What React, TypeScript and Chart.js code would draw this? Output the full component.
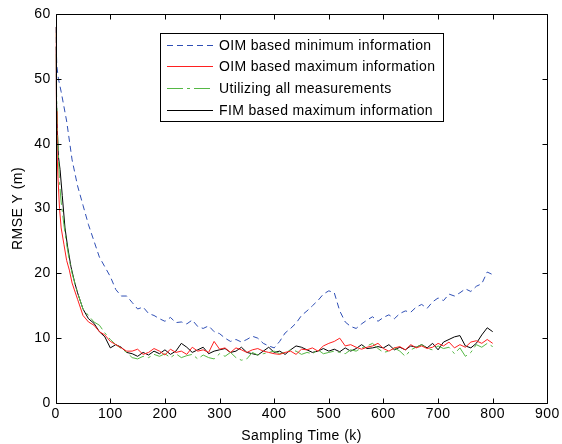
import React, { useEffect, useRef } from "react";
import { Chart, registerables } from "chart.js";
Chart.register(...registerables);

const xBlue = [0, 2, 5, 10, 20, 30, 40, 50, 60, 70, 80, 90, 100, 110, 120, 130, 140, 150, 160, 170, 180, 190, 200, 210, 220, 230, 240, 250, 260, 270, 280, 290, 300, 310, 320, 330, 340, 350, 360, 370, 380, 390, 400, 410, 420, 430, 440, 450, 460, 470, 480, 490, 500, 510, 520, 530, 540, 550, 560, 570, 580, 590, 600, 610, 620, 630, 640, 650, 660, 670, 680, 690, 700, 710, 720, 730, 740, 750, 760, 770, 780, 790, 800];
const yBlue = [58, 52, 50, 48, 43.5, 37.5, 33.5, 30.5, 27.5, 25, 22.5, 21, 19.5, 17.5, 16.5, 16.5, 15.5, 14.5, 14.8, 13.8, 13.5, 13, 12.6, 13.2, 12.4, 12.5, 12.2, 12.8, 11.8, 11.5, 11.9, 11, 10.7, 10, 9.5, 9.8, 9.4, 9.8, 10.3, 10, 9.2, 8.8, 8.5, 9.5, 10.8, 11.5, 12.3, 13.5, 14.2, 15, 15.8, 16.8, 17.3, 17, 14.2, 12.5, 11.8, 11.5, 12.2, 12.8, 13.3, 12.6, 13.2, 13.6, 13, 13.8, 14.2, 14, 14.8, 15.2, 14.6, 15.6, 16.2, 15.8, 16.8, 16.5, 17, 17.6, 17.2, 18, 18.4, 20.2, 19.8];

const xRed = [0, 1, 2, 4, 7, 10, 15, 20, 25, 30, 40, 50, 60, 70, 80, 90, 100, 110, 120, 130, 140, 150, 160, 170, 180, 190, 200, 210, 220, 230, 240, 250, 260, 270, 280, 290, 300, 310, 320, 330, 340, 350, 360, 370, 380, 390, 400, 410, 420, 430, 440, 450, 460, 470, 480, 490, 500, 510, 520, 530, 540, 550, 560, 570, 580, 590, 600, 610, 620, 630, 640, 650, 660, 670, 680, 690, 700, 710, 720, 730, 740, 750, 760, 770, 780, 790, 800];
const yRed = [58, 45, 40, 35, 30, 27, 24.5, 22, 20.5, 18.5, 16, 13.5, 12.5, 12, 11, 10.5, 9.5, 9, 8.5, 8, 8, 8.3, 7.5, 7.8, 8.4, 8, 7.4, 8.3, 7.8, 8, 7.5, 8.6, 8, 8.2, 7.8, 9.5, 8.3, 8.5, 7.8, 8.5, 8.2, 7.8, 8.2, 8.4, 8, 7.8, 7.6, 7.5, 7.8, 8, 7.5, 8.3, 8.2, 8.5, 8, 8.8, 9.2, 9.5, 10, 8.8, 9, 8.6, 8.3, 8.6, 8.8, 9.2, 8.4, 8, 8.5, 8.7, 8.2, 9, 8.5, 8.8, 8.4, 8.6, 9.2, 8.8, 9.4, 8.5, 9, 8.6, 9.4, 9.6, 9.2, 9.8, 9.2];

const xGreen = [0, 1, 2, 4, 7, 10, 15, 20, 25, 30, 40, 50, 60, 70, 80, 90, 100, 110, 120, 130, 140, 150, 160, 170, 180, 190, 200, 210, 220, 230, 240, 250, 260, 270, 280, 290, 300, 310, 320, 330, 340, 350, 360, 370, 380, 390, 400, 410, 420, 430, 440, 450, 460, 470, 480, 490, 500, 510, 520, 530, 540, 550, 560, 570, 580, 590, 600, 610, 620, 630, 640, 650, 660, 670, 680, 690, 700, 710, 720, 730, 740, 750, 760, 770, 780, 790, 800];
const yGreen = [58, 50, 46, 40, 34, 31, 27.5, 24.5, 22, 20, 17, 14.5, 13.5, 12.5, 12, 10.8, 9.8, 9, 8.4, 7.8, 7, 6.8, 7.2, 7, 7.5, 7.2, 7.6, 7, 7.6, 7, 7.3, 7.5, 6.8, 7.4, 7, 6.8, 7.6, 7.2, 7.8, 7, 6.6, 6.8, 7.8, 7.4, 7.6, 7.8, 8, 7.6, 7.8, 8.2, 8, 7.5, 7.8, 7.6, 8.2, 7.6, 7.8, 8, 7.8, 7.6, 8.2, 8, 8.5, 8.8, 9.2, 8.4, 7.8, 8, 8.5, 8, 7.2, 8.2, 8.6, 9, 8.4, 8.2, 8.8, 8.4, 8.6, 7.6, 8.5, 7.2, 7.8, 9, 8.6, 9.2, 8.7];

const xBlack = [0, 1, 3, 5, 8, 12, 17, 22, 28, 35, 40, 50, 60, 70, 80, 90, 100, 110, 120, 130, 140, 150, 160, 170, 180, 190, 200, 210, 220, 230, 240, 250, 260, 270, 280, 290, 300, 310, 320, 330, 340, 350, 360, 370, 380, 390, 400, 410, 420, 430, 440, 450, 460, 470, 480, 490, 500, 510, 520, 530, 540, 550, 560, 570, 580, 590, 600, 610, 620, 630, 640, 650, 660, 670, 680, 690, 700, 710, 720, 730, 740, 750, 760, 770, 780, 790, 800];
const yBlack = [55, 48, 42, 38, 36, 32, 27, 24, 21, 18.5, 17, 14.5, 13, 12.3, 11, 10.2, 8.5, 9, 8.6, 7.8, 7.6, 7.2, 7.8, 7.4, 8, 7.6, 8.2, 7.5, 8, 9.2, 8.6, 7.8, 8.2, 8.6, 7.6, 8, 8.2, 8.4, 7.8, 8, 8.6, 7.8, 7.6, 7.4, 8, 8.6, 7.8, 8, 7.5, 8.2, 8.8, 8.6, 8.2, 7.8, 8, 8.4, 8, 8.3, 7.9, 8.5, 8, 8.4, 9, 8.4, 8.5, 8.7, 8.5, 9, 8.2, 8.6, 8.2, 8.8, 8.6, 9, 8.5, 9.2, 8.2, 9.4, 9.8, 10.2, 10.4, 8.8, 8.5, 9.2, 10.5, 11.6, 11];

const seriesLabels = [
  "OIM based minimum information",
  "OIM based maximum information",
  "Utilizing all measurements",
  "FIM based maximum information",
];
const seriesColors = ["#2f4fb5", "#ff2020", "#55b845", "#000000"];
const xTicks = [0, 100, 200, 300, 400, 500, 600, 700, 800, 900];
const yTicks = [0, 10, 20, 30, 40, 50, 60];

const pts = (xs: number[], ys: number[]) => xs.map((x, i) => ({ x, y: ys[i] }));

const FONT = "'Liberation Sans', Arial, sans-serif";

const boxPlugin = {
  id: "matlabBox",
  beforeDraw(chart: any) {
    chart.ctx.letterSpacing = "0.45px";
  },
  afterDatasetsDraw(chart: any) {
    const { ctx, chartArea: a, scales } = chart;
    ctx.save();
    ctx.strokeStyle = "#000";
    ctx.lineWidth = 1;
    ctx.beginPath();
    const L = Math.round(a.left) + 0.5, R = Math.round(a.right) + 0.5;
    const T = Math.round(a.top) + 0.5, B = Math.round(a.bottom) + 0.5;
    ctx.rect(L, T, R - L, B - T);
    const tl = 5;
    xTicks.forEach((v) => {
      const px = Math.round(scales.x.getPixelForValue(v)) + 0.5;
      ctx.moveTo(px, B); ctx.lineTo(px, B - tl);
      ctx.moveTo(px, T); ctx.lineTo(px, T + tl);
    });
    yTicks.forEach((v) => {
      const py = Math.round(scales.y.getPixelForValue(v)) + 0.5;
      ctx.moveTo(L, py); ctx.lineTo(L + tl, py);
      ctx.moveTo(R, py); ctx.lineTo(R - tl, py);
    });
    ctx.stroke();

    // legend
    const bx = 160.5, by = 33.5, bw = 283, bh = 88;
    ctx.fillStyle = "#fff";
    ctx.fillRect(bx, by, bw, bh);
    ctx.strokeStyle = "#000";
    ctx.strokeRect(bx, by, bw, bh);
    ctx.font = "14px " + FONT;
    ctx.letterSpacing = "0.35px";
    ctx.textBaseline = "middle";
    chart.data.datasets.forEach((ds: any, i: number) => {
      const y = Math.round(by + 11 + i * 21.7) + 0.5;
      ctx.beginPath();
      ctx.strokeStyle = seriesColors[i];
      ctx.lineWidth = 1;
      ctx.setLineDash(ds.borderDash || []);
      ctx.moveTo(167, y);
      ctx.lineTo(213, y);
      ctx.stroke();
      ctx.setLineDash([]);
      ctx.fillStyle = "#000";
      ctx.fillText(ds.label, 219, y + 1);
    });
    ctx.restore();
  },
};

export default function App() {
  const ref = useRef<HTMLCanvasElement>(null);
  useEffect(() => {
    const chart = new Chart(ref.current!, {
      type: "line",
      data: {
        datasets: [
          { label: seriesLabels[0], data: pts(xBlue, yBlue), borderColor: seriesColors[0], borderWidth: 1, borderDash: [6, 4], pointRadius: 0, fill: false, tension: 0 },
          { label: seriesLabels[1], data: pts(xRed, yRed), borderColor: seriesColors[1], borderWidth: 1, pointRadius: 0, fill: false, tension: 0 },
          { label: seriesLabels[2], data: pts(xGreen, yGreen), borderColor: seriesColors[2], borderWidth: 1, borderDash: [16, 4, 3, 4], pointRadius: 0, fill: false, tension: 0 },
          { label: seriesLabels[3], data: pts(xBlack, yBlack), borderColor: seriesColors[3], borderWidth: 1, pointRadius: 0, fill: false, tension: 0 },
        ],
      },
      options: {
        responsive: false,
        animation: false,
        layout: { padding: { top: 14, right: 13, left: 0, bottom: 0 } },
        plugins: { legend: { display: false }, tooltip: { enabled: false } },
        scales: {
          x: {
            type: "linear",
            min: 0,
            max: 900,
            afterBuildTicks: (s: any) => { s.ticks = xTicks.map((v) => ({ value: v })); },
            afterFit: (s: any) => { s.height = 41; },
            grid: { display: false, drawTicks: false },
            border: { display: false },
            ticks: { color: "#000", font: { family: FONT, size: 14 }, padding: 3, maxRotation: 0 },
            title: { display: true, text: "Sampling Time (k)", color: "#000", font: { family: FONT, size: 14 }, padding: { top: 0, bottom: -1 } },
          },
          y: {
            min: 0,
            max: 60,
            afterBuildTicks: (s: any) => { s.ticks = yTicks.map((v) => ({ value: v })); },
            afterFit: (s: any) => { s.width = 55.7; },
            grid: { display: false, drawTicks: false },
            border: { display: false },
            ticks: { color: "#000", font: { family: FONT, size: 14 }, padding: 5 },
            title: { display: true, text: "RMSE Y (m)", color: "#000", font: { family: FONT, size: 14 }, padding: { top: 9.5, bottom: 0 } },
          },
        },
      },
      plugins: [boxPlugin],
    } as any);
    return () => chart.destroy();
  }, []);
  return (
    <div style={{ position: "fixed", left: 0, top: 0, width: 562, height: 444, background: "#fff" }}>
      <canvas ref={ref} width={562} height={444} />
    </div>
  );
}
